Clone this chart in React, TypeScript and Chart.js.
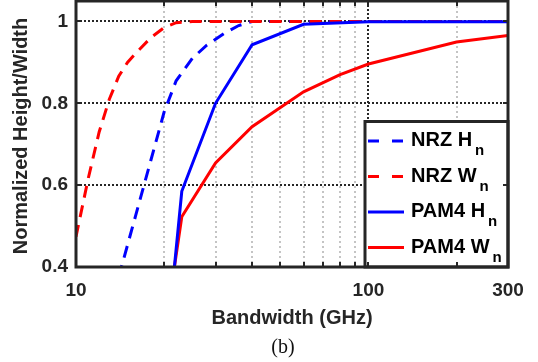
import React, { useEffect, useRef } from 'react';
import { Chart, registerables } from 'chart.js';

Chart.register(...registerables);

// ---- data ----
const NRZ_H_GHZ = [14, 16, 18, 20, 22, 25, 28, 32, 36, 40, 60, 100, 200, 300];
const NRZ_H_VAL = [0.376, 0.526, 0.659, 0.778, 0.855, 0.91, 0.942, 0.97, 0.99, 1.0, 1.0, 1.0, 1.0, 1.0];

const NRZ_W_GHZ = [10, 11, 12, 13, 14, 15, 16, 18, 20, 22, 25, 30, 40, 60, 100, 200, 300];
const NRZ_W_VAL = [0.474, 0.615, 0.73, 0.81, 0.866, 0.9, 0.922, 0.96, 0.985, 0.997, 1.0, 1.0, 1.0, 1.0, 1.0, 1.0, 1.0];

const PAM4_H_GHZ = [21.7, 23, 30, 40, 60, 100, 200, 300];
const PAM4_H_VAL = [0.4, 0.585, 0.8, 0.943, 0.993, 0.999, 0.999, 0.999];

const PAM4_W_GHZ = [21.7, 23, 30, 40, 60, 80, 100, 200, 300];
const PAM4_W_VAL = [0.4, 0.523, 0.654, 0.743, 0.828, 0.87, 0.896, 0.95, 0.966];

const X_TICKS = [10, 20, 30, 40, 50, 60, 70, 80, 90, 100, 200, 300];
const X_LABELED = [10, 100, 300];
const X_MAJOR_GRID = [100];
const Y_TICKS = [0.4, 0.6, 0.8, 1];
const Y_GRID = [0.6, 0.8, 1];

const SERIES_NAMES = ['NRZ H', 'NRZ W', 'PAM4 H', 'PAM4 W'];
const SERIES_SUB = ['n', 'n', 'n', 'n'];
const X_TITLE = 'Bandwidth (GHz)';
const Y_TITLE = 'Normalized Height/Width';
const CAPTION = '(b)';

const BLUE = '#0000ff';
const RED = '#ff0000';
const INK = '#262626';
const SANS = "'Liberation Sans', Arial, Helvetica, sans-serif";
const SERIF = "'Liberation Serif', 'Times New Roman', serif";
const PLOT_DASH = [12, 8];

const toXY = (xs: number[], ys: number[]) => xs.map((x, i) => ({ x, y: ys[i] }));

const decoPlugin = {
  id: 'deco',
  beforeDatasetsDraw(chart: any) {
    const { ctx, chartArea: a, scales } = chart;
    const x = scales.x;
    const y = scales.y;
    ctx.save();
    ctx.beginPath();
    ctx.rect(a.left, a.top, a.right - a.left, a.bottom - a.top);
    ctx.clip();
    ctx.lineWidth = 2;
    ctx.lineCap = 'butt';
    ctx.strokeStyle = '#c4c4c4';
    ctx.setLineDash([2, 3]);
    X_TICKS.filter((v) => !X_LABELED.includes(v) && !X_MAJOR_GRID.includes(v)).forEach((v) => {
      const px = Math.round(x.getPixelForValue(v));
      ctx.beginPath();
      ctx.moveTo(px, a.top);
      ctx.lineTo(px, a.bottom);
      ctx.stroke();
    });
    ctx.strokeStyle = INK;
    ctx.setLineDash([2, 2]);
    X_MAJOR_GRID.forEach((v) => {
      const px = Math.round(x.getPixelForValue(v));
      ctx.beginPath();
      ctx.moveTo(px, a.top);
      ctx.lineTo(px, a.bottom);
      ctx.stroke();
    });
    Y_GRID.forEach((v) => {
      const py = Math.round(y.getPixelForValue(v));
      ctx.beginPath();
      ctx.moveTo(a.left, py);
      ctx.lineTo(a.right, py);
      ctx.stroke();
    });
    ctx.restore();
  },
  afterDatasetsDraw(chart: any) {
    const { ctx, chartArea: a, scales } = chart;
    const x = scales.x;
    const y = scales.y;
    ctx.save();
    const lx0 = 365;
    const ly0 = 121.5;
    ctx.fillStyle = '#ffffff';
    ctx.fillRect(lx0, ly0, a.right - lx0, a.bottom - ly0);
    ctx.lineWidth = 3;
    ctx.strokeStyle = INK;
    ctx.setLineDash([]);
    ctx.strokeRect(lx0, ly0, a.right - lx0, a.bottom - ly0);
    const rowY = [141, 176.5, 212, 247.5];
    const colors = [BLUE, RED, BLUE, RED];
    const dashed = [true, true, false, false];
    SERIES_NAMES.forEach((name, i) => {
      const ly = rowY[i];
      ctx.strokeStyle = colors[i];
      ctx.lineWidth = 3;
      ctx.setLineDash(dashed[i] ? [11, 13] : []);
      ctx.beginPath();
      ctx.moveTo(368, ly);
      ctx.lineTo(404, ly);
      ctx.stroke();
      ctx.setLineDash([]);
      ctx.fillStyle = '#000';
      ctx.textAlign = 'left';
      ctx.textBaseline = 'alphabetic';
      ctx.font = `bold 20px ${SANS}`;
      ctx.fillText(name, 411, ly + 5);
      const w = ctx.measureText(name).width;
      ctx.font = `bold 15px ${SANS}`;
      ctx.fillText(SERIES_SUB[i], 411 + w + 3, ly + 14);
    });
    ctx.strokeStyle = INK;
    ctx.lineWidth = 3;
    ctx.setLineDash([]);
    ctx.strokeRect(a.left, a.top, a.right - a.left, a.bottom - a.top);
    ctx.lineWidth = 2;
    X_TICKS.filter((v) => v !== 10 && v !== 300).forEach((v) => {
      const px = Math.round(x.getPixelForValue(v));
      ctx.beginPath();
      ctx.moveTo(px, a.bottom);
      ctx.lineTo(px, a.bottom - 5);
      ctx.moveTo(px, a.top);
      ctx.lineTo(px, a.top + 5);
      ctx.stroke();
    });
    Y_GRID.forEach((v) => {
      const py = Math.round(y.getPixelForValue(v));
      ctx.beginPath();
      ctx.moveTo(a.left, py);
      ctx.lineTo(a.left + 5, py);
      ctx.moveTo(a.right, py);
      ctx.lineTo(a.right - 5, py);
      ctx.stroke();
    });
    ctx.restore();
  },
  afterDraw(chart: any) {
    const { ctx, chartArea: a } = chart;
    ctx.save();
    ctx.fillStyle = INK;
    ctx.font = `bold 20px ${SANS}`;
    ctx.textAlign = 'center';
    ctx.textBaseline = 'middle';
    ctx.fillText(X_TITLE, (a.left + a.right) / 2, 318);
    ctx.save();
    ctx.translate(21, 136);
    ctx.rotate(-Math.PI / 2);
    ctx.fillText(Y_TITLE, 0, 0);
    ctx.restore();
    ctx.fillStyle = '#111';
    ctx.font = `20px ${SERIF}`;
    ctx.fillText(CAPTION, 283, 348);
    ctx.restore();
  },
};

export default function App() {
  const ref = useRef<HTMLCanvasElement | null>(null);
  useEffect(() => {
    if (!ref.current) return;
    const tickFont = { family: SANS, size: 19, weight: 'bold' as const };
    const chart = new Chart(ref.current, {
      type: 'line',
      data: {
        datasets: [
          { label: 'NRZ Hn', data: toXY(NRZ_H_GHZ, NRZ_H_VAL), borderColor: BLUE, borderDash: PLOT_DASH, order: 3 },
          { label: 'NRZ Wn', data: toXY(NRZ_W_GHZ, NRZ_W_VAL), borderColor: RED, borderDash: PLOT_DASH, order: 2 },
          { label: 'PAM4 Hn', data: toXY(PAM4_H_GHZ, PAM4_H_VAL), borderColor: BLUE, order: 0 },
          { label: 'PAM4 Wn', data: toXY(PAM4_W_GHZ, PAM4_W_VAL), borderColor: RED, order: 1 },
        ],
      },
      options: {
        animation: false,
        responsive: false,
        devicePixelRatio: 1,
        layout: { padding: { left: 0, right: 30, top: 1, bottom: 0 } },
        plugins: { legend: { display: false }, tooltip: { enabled: false } },
        elements: {
          point: { radius: 0 },
          line: { borderWidth: 3, tension: 0, fill: false, borderCapStyle: 'butt' },
        },
        scales: {
          x: {
            type: 'logarithmic',
            min: 10,
            max: 300,
            afterBuildTicks: (s: any) => {
              s.ticks = X_TICKS.map((v) => ({ value: v }));
            },
            afterFit: (s: any) => {
              s.height = 95;
              s.paddingLeft = 0;
              s.paddingRight = 0;
            },
            grid: { display: false, drawTicks: false },
            border: { display: false },
            ticks: {
              autoSkip: false,
              maxRotation: 0,
              padding: 12,
              color: INK,
              font: tickFont,
              callback: (v: any) => (X_LABELED.includes(Number(v)) ? String(v) : ''),
            },
          },
          y: {
            type: 'linear',
            min: 0.4,
            max: 1.05,
            afterBuildTicks: (s: any) => {
              s.ticks = Y_TICKS.map((v) => ({ value: v }));
            },
            afterFit: (s: any) => {
              s.width = 76;
              s.paddingTop = 0;
              s.paddingBottom = 0;
            },
            grid: { display: false, drawTicks: false },
            border: { display: false },
            ticks: {
              padding: 8,
              color: INK,
              font: tickFont,
              callback: (v: any) => (Number(v) === 1 ? '1' : Number(v).toFixed(1)),
            },
          },
        },
      },
      plugins: [decoPlugin],
    } as any);
    return () => chart.destroy();
  }, []);
  return (
    <div style={{ position: 'fixed', left: 0, top: 0, width: 538, height: 362, background: '#fff' }}>
      <canvas ref={ref} width={538} height={362} style={{ width: 538, height: 362, display: 'block' }} />
    </div>
  );
}
